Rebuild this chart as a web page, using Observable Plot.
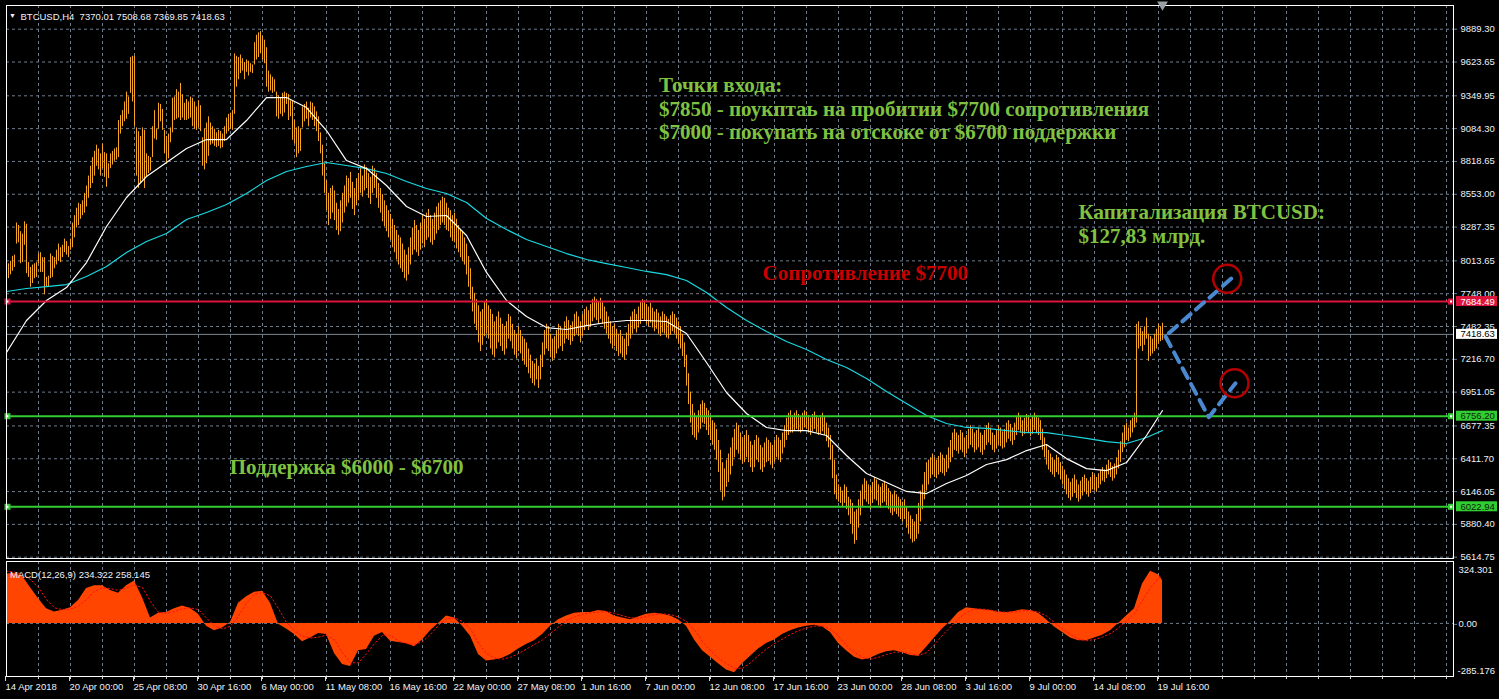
<!DOCTYPE html>
<html><head><meta charset="utf-8">
<script src="https://cdn.jsdelivr.net/npm/d3@7"></script>
<script src="https://cdn.jsdelivr.net/npm/@observablehq/plot@0.6"></script>
<style>
html,body{margin:0;padding:0;background:#000;}
#wrap{position:relative;width:1499px;height:699px;background:#000;overflow:hidden;}
#price{position:absolute;left:0;top:0;}
#macd{position:absolute;left:0;top:558px;}
</style></head><body><div id="wrap"><div id="price"></div><div id="macd"></div></div>
<script>
// ---------- DATA ----------
const START = "2018-04-14T16:00Z";   // first H4 bar
const BAR_HOURS = 4;
const header = "BTCUSD,H4\u00a0\u00a07370.01 7508.68 7369.85 7418.63";
const high = [
7920,7990,8010,8050,8060,8320,8300,8250,8230,8330,
8310,8000,7960,7980,7990,8000,8070,8080,8040,8040,
7880,7890,8070,8050,8040,8100,8150,8120,8140,8190,
8170,8130,8190,8320,8380,8440,8480,8470,8500,8560,
8620,8700,8780,8850,8900,8950,8920,8880,8960,8890,
8880,8800,8880,8900,8920,8930,9150,9190,9230,9300,
9380,9340,9660,9670,9670,9090,9060,9020,9090,9070,
8880,8860,8850,9100,9230,9080,9290,9280,9240,9070,
9020,9040,9090,9330,9340,9400,9380,9450,9360,9290,
9320,9300,9340,9330,9300,9260,9310,9270,9010,9080,
9130,9180,9130,9100,9080,9050,9070,9060,9040,9100,
9170,9200,9210,9230,9690,9670,9660,9680,9650,9620,
9640,9630,9610,9600,9780,9840,9860,9870,9830,9800,
9740,9550,9520,9500,9480,9380,9350,9330,9370,9380,
9370,9360,9310,9310,9150,9090,9100,9080,9260,9280,
9300,9250,9300,9290,9260,9220,9180,9050,8950,8800,
8660,8560,8600,8620,8580,8480,8430,8500,8560,8620,
8700,8680,8730,8650,8600,8680,8720,8760,8700,8790,
8770,8720,8690,8780,8760,8720,8640,8600,8550,8500,
8460,8420,8390,8350,8300,8260,8220,8200,8150,8100,
8060,8120,8200,8280,8340,8300,8260,8320,8380,8350,
8400,8430,8380,8350,8400,8450,8480,8500,8530,8520,
8480,8440,8420,8380,8400,8350,8300,8260,8250,8200,
8150,8050,7950,7800,7750,7700,7650,7600,7620,7680,
7700,7650,7620,7580,7520,7560,7600,7550,7500,7480,
7520,7580,7560,7500,7450,7420,7480,7450,7400,7380,
7350,7300,7250,7200,7180,7220,7160,7250,7350,7450,
7500,7480,7420,7380,7400,7450,7500,7480,7450,7520,
7560,7530,7490,7520,7580,7600,7560,7520,7580,7620,
7640,7610,7660,7700,7720,7700,7680,7710,7680,7640,
7600,7560,7520,7480,7500,7460,7420,7450,7400,7380,
7430,7500,7560,7600,7620,7580,7640,7680,7700,7690,
7660,7640,7670,7630,7600,7620,7590,7560,7600,7580,
7560,7540,7570,7600,7580,7550,7520,7480,7420,7350,
7250,7100,6950,6850,6780,6750,6800,6850,6880,6860,
6820,6800,6760,6720,6700,6650,6560,6480,6380,6330,
6400,6450,6500,6580,6650,6700,6680,6620,6580,6600,
6640,6600,6550,6520,6560,6600,6580,6520,6500,6540,
6580,6560,6540,6520,6560,6600,6580,6560,6620,6680,
6740,6780,6800,6760,6780,6800,6770,6750,6780,6800,
6790,6760,6740,6770,6790,6760,6740,6760,6780,6750,
6700,6660,6600,6520,6400,6280,6200,6180,6150,6200,
6180,6100,6080,6050,5980,6000,6080,6150,6200,6250,
6230,6200,6180,6220,6260,6240,6200,6180,6210,6230,
6200,6170,6140,6120,6150,6120,6100,6080,6060,6080,
6020,5980,5950,5920,5900,5960,6050,6150,6200,6300,
6380,6400,6420,6450,6420,6400,6430,6460,6440,6410,
6440,6500,6560,6620,6650,6620,6600,6640,6620,6580,
6600,6650,6680,6650,6620,6640,6660,6620,6600,6640,
6680,6700,6660,6620,6600,6640,6680,6660,6630,6650,
6700,6720,6690,6660,6700,6750,6780,6760,6720,6740,
6770,6760,6730,6750,6780,6760,6740,6720,6650,6580,
6520,6480,6450,6420,6400,6440,6420,6380,6350,6320,
6280,6250,6220,6250,6280,6240,6200,6230,6260,6280,
6250,6230,6260,6300,6280,6260,6290,6320,6340,6320,
6360,6400,6380,6350,6370,6420,6480,6550,6620,6680,
6700,6660,6720,6740,6780,7500,7520,7470,7440,7480,
7550,7420,7400,7380,7420,7460,7500,7480,7508.68];
const low = [
7810,7870,7900,7930,7960,8150,8160,7990,8000,8140,
7910,7880,7800,7830,7870,7880,7990,7920,7920,7740,
7800,7800,7870,7880,7950,7980,8010,8000,8040,8080,
8060,8040,8100,8120,8200,8280,8300,8350,8380,8400,
8450,8520,8600,8640,8700,8780,8750,8700,8760,8690,
8610,8680,8760,8790,8820,8830,8850,9040,9100,9140,
9160,9200,9370,9300,9100,8700,8600,8640,8670,8600,
8690,8720,8740,8850,9000,8990,9080,9140,9070,8880,
8800,8840,8970,9050,9150,9160,9170,9150,9170,9150,
9150,9160,9170,9100,9080,9070,9090,9060,8780,8750,
8800,8860,8950,8960,8940,8930,8940,8920,8930,8980,
9040,9060,9080,9070,9200,9420,9480,9530,9550,9480,
9540,9510,9540,9530,9600,9640,9660,9690,9640,9610,
9420,9380,9390,9370,9380,9180,9160,9200,9180,9210,
9280,9150,9180,8990,8960,8850,8880,8900,9090,9140,
9160,9100,9170,9150,9100,9060,8980,8880,8700,8560,
8420,8300,8350,8400,8340,8260,8220,8250,8320,8400,
8450,8480,8520,8430,8380,8460,8500,8560,8530,8580,
8600,8520,8470,8560,8600,8520,8440,8400,8330,8290,
8250,8200,8180,8120,8080,8020,7980,7950,7920,7870,
7850,7900,7980,8060,8100,8080,8050,8100,8150,8120,
8180,8200,8160,8140,8180,8230,8260,8300,8320,8300,
8260,8250,8200,8170,8160,8110,8080,8040,8010,7980,
7900,7800,7700,7600,7500,7450,7350,7280,7330,7400,
7420,7380,7300,7250,7230,7300,7350,7320,7280,7250,
7300,7380,7360,7300,7250,7220,7280,7260,7200,7170,
7150,7100,7060,7020,7000,7050,6980,7050,7150,7250,
7300,7280,7230,7200,7220,7260,7300,7320,7280,7340,
7380,7370,7330,7360,7400,7420,7400,7350,7400,7450,
7480,7450,7480,7520,7550,7530,7500,7540,7500,7460,
7420,7380,7340,7300,7320,7280,7240,7260,7230,7210,
7250,7320,7380,7420,7460,7430,7470,7500,7540,7530,
7500,7480,7510,7470,7440,7460,7420,7400,7430,7420,
7390,7380,7410,7440,7420,7380,7340,7300,7240,7150,
7000,6850,6700,6600,6580,6560,6620,6650,6700,6690,
6640,6600,6560,6520,6480,6400,6300,6150,6070,6100,
6180,6220,6280,6350,6420,6480,6450,6400,6370,6380,
6420,6380,6340,6300,6340,6400,6380,6320,6300,6340,
6380,6390,6360,6330,6380,6420,6400,6380,6450,6500,
6560,6600,6620,6620,6640,6650,6630,6620,6640,6660,
6650,6620,6600,6630,6650,6620,6600,6610,6630,6600,
6550,6500,6400,6250,6120,6080,6060,6050,6020,6050,
6000,5950,5880,5800,5720,5750,5850,5950,6020,6080,
6060,6040,6000,6050,6080,6070,6030,6010,6050,6060,
6030,6000,5970,5950,5980,5960,5940,5920,5900,5920,
5850,5800,5760,5730,5740,5760,5800,5900,6000,6080,
6150,6200,6250,6280,6260,6250,6280,6300,6290,6270,
6300,6330,6380,6420,6480,6470,6450,6480,6460,6420,
6450,6490,6520,6500,6460,6480,6500,6460,6440,6480,
6520,6540,6520,6480,6460,6490,6520,6510,6490,6500,
6540,6570,6550,6520,6560,6600,6640,6620,6590,6610,
6630,6620,6590,6610,6640,6620,6600,6560,6480,6420,
6360,6320,6300,6280,6260,6300,6280,6240,6200,6160,
6120,6090,6070,6100,6130,6090,6060,6080,6110,6140,
6120,6100,6130,6160,6150,6140,6170,6200,6230,6220,
6250,6280,6260,6230,6250,6280,6330,6380,6460,6500,
6560,6550,6580,6620,6660,6700,7300,7320,7280,7330,
7380,7200,7240,7260,7280,7300,7340,7360,7369.85];
// moving averages, one value every MA_STEP bars, last value on the last bar
const MA_STEP = 10;
const maFast = [7272,7531,7693,7798,8000,8292,8527,8697,8810,8923,
8996,8996,9150,9336,9336,9255,9069,8826,8761,8624,
8454,8373,8381,8219,7920,7693,7563,7474,7458,7490,
7515,7531,7531,7523,7426,7191,6948,6778,6665,6640,
6640,6600,6438,6292,6219,6147,6130,6211,6276,6365,
6405,6478,6527,6413,6332,6316,6381,6600,6802];
const maSlow = [7766,7790,7806,7822,7887,7968,8082,8171,8235,8349,
8405,8470,8559,8664,8737,8778,8810,8786,8761,8721,
8656,8600,8559,8486,8357,8268,8187,8130,8073,8025,
7992,7960,7928,7903,7855,7758,7636,7531,7442,7361,
7296,7215,7150,7061,6956,6859,6762,6697,6665,6657,
6640,6624,6624,6600,6576,6551,6535,6584,6640];
// MACD(12,26,9): one value every MACD_STEP bars, last value on the last bar
const MACD_STEP = 4;
const macdMain = [270,272,258,195,135,80,62,72,86,125,
190,205,205,180,165,205,232,140,30,55,
60,80,95,82,50,-15,-40,-25,5,110,
145,170,175,110,-5,-30,-60,-100,-80,-55,
-60,-165,-225,-235,-150,-142,-70,-50,-98,-105,
-111,-128,-90,-40,0,40,30,-15,-70,-170,
-205,-200,-190,-170,-140,-115,-95,-60,-15,20,
40,55,60,60,70,65,40,30,20,35,
50,55,50,40,20,-15,-90,-150,-185,-220,
-255,-270,-220,-180,-140,-110,-90,-60,-40,-25,
-15,-10,-20,-50,-110,-150,-185,-200,-190,-170,
-155,-150,-160,-175,-180,-130,-80,-30,10,60,
85,80,75,70,60,60,65,75,70,55,
20,-20,-50,-80,-95,-95,-80,-65,-40,0,
40,80,215,285,265,234.322];
const macdSignal = [285,280,268,240,195,130,85,75,78,95,
130,175,195,190,180,195,210,195,120,60,
55,65,80,85,75,30,-15,-30,-15,40,
110,160,168,150,80,5,-40,-70,-80,-75,
-65,-90,-160,-215,-215,-165,-110,-65,-65,-95,
-110,-115,-100,-60,-10,25,30,10,-30,-110,
-165,-190,-195,-185,-165,-140,-115,-90,-55,-20,
15,35,50,58,62,65,55,42,30,28,
38,48,52,48,35,10,-35,-100,-150,-190,
-220,-245,-245,-215,-175,-140,-110,-85,-60,-40,
-25,-15,-15,-30,-70,-120,-160,-185,-195,-185,
-170,-158,-155,-165,-175,-160,-115,-65,-20,25,
60,78,78,72,65,60,62,68,70,62,
40,5,-30,-60,-85,-95,-88,-75,-55,-25,
15,55,125,195,245,258.145];
const macdText = "MACD(12,26,9) 234.322 258.145";
// price axis and levels
const yTicks = [9889.30,9623.65,9349.95,9084.30,8818.65,8553.00,8287.35,8013.65,7748.00,7482.35,7216.70,6951.05,6677.35,6411.70,6146.05,5880.40,5614.75];
const macdTicks = [324.301, 0, -285.176];
const macdTickLabels = ["324.301", "0.00", "-285.176"];
const levelValues = [7684.49, 6756.20, 6022.94];
const levelColors = ["#dc143c", "#32cd32", "#32cd32"];
const levelTextColors = ["#ffffff", "#0b1f0b", "#0b1f0b"];
const bid = 7418.63;
// time axis
const xTickDates = ["2018-04-14T16:00Z","2018-04-20T00:00Z","2018-04-25T08:00Z","2018-04-30T16:00Z","2018-05-06T00:00Z","2018-05-11T08:00Z","2018-05-16T16:00Z","2018-05-22T00:00Z","2018-05-27T08:00Z","2018-06-01T16:00Z","2018-06-07T00:00Z","2018-06-12T08:00Z","2018-06-17T16:00Z","2018-06-23T00:00Z","2018-06-28T08:00Z","2018-07-03T16:00Z","2018-07-09T00:00Z","2018-07-14T08:00Z","2018-07-19T16:00Z"];
const xTickLabels = ["14 Apr 2018","20 Apr 00:00","25 Apr 08:00","30 Apr 16:00","6 May 00:00","11 May 08:00","16 May 16:00","22 May 00:00","27 May 08:00","1 Jun 16:00","7 Jun 00:00","12 Jun 08:00","17 Jun 16:00","23 Jun 00:00","28 Jun 08:00","3 Jul 16:00","9 Jul 00:00","14 Jul 08:00","19 Jul 16:00"];
// annotations (anchored in time / price)
const notes = [
  {text: "Точки входа:\n$7850 - поукптаь на пробитии $7700 сопротивления\n$7000 - покупать на отскоке от $6700 поддержки", date: "2018-06-08T01:00Z", price: 9516, color: "#7fc241", lh: 1.12},
  {text: "Капитализация BTCUSD:\n$127,83 млрд.", date: "2018-07-13T00:00Z", price: 8494, color: "#7fc241", lh: 1.16},
  {text: "Сопротивление $7700", date: "2018-06-16T16:00Z", price: 7992, color: "#c80000", lh: 1.1},
  {text: "Поддержка $6000 - $6700", date: "2018-05-03T06:30Z", price: 6424, color: "#7fc241", lh: 1.1}
];
const pathUp = [{date: "2018-07-20T12:36Z", price: 7428}, {date: "2018-07-25T19:24Z", price: 7877}];
const pathDown = [{date: "2018-07-20T06:00Z", price: 7401}, {date: "2018-07-23T20:36Z", price: 6748}, {date: "2018-07-26T02:00Z", price: 7023}];
const targets = [{date: "2018-07-25T09:24Z", price: 7869}, {date: "2018-07-26T00:00Z", price: 7023}];

// ---------- BUILD ----------
const H = 3600e3;
const t0 = new Date(START);
const nBars = Math.min(high.length, low.length);
const lastBar = nBars - 1;
const barDate = i => new Date(+t0 + i * BAR_HOURS * H);
const xDomain = [t0, new Date(+t0 + 2894 * H)];
const xEnd = +xDomain[1];
const yDomain = [5604.2, 10081.2];
const pricePerPx = (yDomain[1] - yDomain[0]) / 553;
const hoursPerPx = 2;
const gridDates = d3.range(1, 46).map(k => new Date(+t0 + k * 16 * BAR_HOURS * H));
const bars = d3.range(nBars).map(i => ({date: barDate(i), high: high[i], low: low[i]}));
const seriesAt = (vals, step) => vals.map((v, k) => ({date: barDate(k === vals.length - 1 ? lastBar : k * step), v}));
const fast = seriesAt(maFast, MA_STEP);
const slow = seriesAt(maSlow, MA_STEP);
const macd = seriesAt(macdMain, MACD_STEP);
const signal = seriesAt(macdSignal, MACD_STEP);
const toD = a => a.map(d => ({...d, date: new Date(d.date)}));
const levels = levelValues.map((v, i) => ({v, color: levelColors[i], tc: levelTextColors[i]}));
const boxes = [...levels, {v: bid, color: "#ffffff", tc: "#000000"}];
const labelMap = new Map(xTickDates.map((d, i) => [+new Date(d), xTickLabels[i]]));
const GRID = "#6f7d8c";
const FONT = "Liberation Sans, Arial, sans-serif";
const SERIF = "Liberation Serif, Times New Roman, serif";
const AX = "#eef2f7";

const price = Plot.plot({
  width: 1499, height: 560,
  marginTop: 5, marginBottom: 2, marginLeft: 6, marginRight: 46,
  x: {type: "utc", domain: xDomain, axis: null},
  y: {domain: yDomain},
  style: {background: "transparent", color: AX, fontFamily: FONT, fontSize: "9.5px", overflow: "visible"},
  marks: [
    Plot.ruleX(gridDates, {stroke: GRID, strokeDasharray: "3,3"}),
    Plot.ruleY(yTicks, {stroke: GRID, strokeDasharray: "3,3"}),
    Plot.ruleY([bid], {stroke: "#7d8791", strokeWidth: 1}),
    Plot.ruleX(bars, {x: "date", y1: "low", y2: "high", stroke: "#f5a623", strokeWidth: 1}),
    Plot.line(slow, {x: "date", y: "v", stroke: "#19d9e3", strokeWidth: 1.2}),
    Plot.line(fast, {x: "date", y: "v", stroke: "#ffffff", strokeWidth: 1.2}),
    Plot.ruleY(levels, {y: "v", stroke: "color", strokeWidth: 2}),
    Plot.dot(levels, {y: "v", frameAnchor: "left", dx: 1, symbol: "square", r: 3.4, fill: "color"}),
    Plot.dot(levels, {y: "v", frameAnchor: "left", dx: 1, symbol: "square", r: 1.1, fill: "white"}),
    Plot.dot(levels, {y: "v", frameAnchor: "right", dx: -2.5, symbol: "square", r: 3.4, fill: "color"}),
    Plot.dot(levels, {y: "v", frameAnchor: "right", dx: -2.5, symbol: "square", r: 1.1, fill: "white"}),
    Plot.line(toD(pathUp), {x: "date", y: "price", stroke: "#4a88d0", strokeWidth: 4, strokeDasharray: "11,7"}),
    Plot.line(toD(pathDown), {x: "date", y: "price", stroke: "#4a88d0", strokeWidth: 4, strokeDasharray: "11,7"}),
    Plot.dot(toD(targets), {x: "date", y: "price", r: 14, stroke: "#b40000", strokeWidth: 2.5, fill: "none"}),
    ...notes.map(n => Plot.text([n], {x: d => new Date(d.date), y: "price", text: "text", fill: n.color,
      fontFamily: SERIF, fontWeight: "bold", fontSize: 21, textAnchor: "start", lineAnchor: "top", lineHeight: n.lh})),
    Plot.frame({stroke: "#ffffff"}),
    Plot.axisY({ticks: yTicks, anchor: "right", label: null, tickFormat: d => d.toFixed(2), tickSize: 3, tickPadding: 4, stroke: GRID, fill: AX, fontSize: 9.5}),
    Plot.rect(boxes, {x1: () => new Date(xEnd + 3 * hoursPerPx * H), x2: () => new Date(xEnd + 44 * hoursPerPx * H),
      y1: d => d.v - 5 * pricePerPx, y2: d => d.v + 5 * pricePerPx, fill: "color"}),
    Plot.text(boxes, {x: () => new Date(xEnd + 7 * hoursPerPx * H), y: "v", text: d => d.v.toFixed(2), fill: "tc", textAnchor: "start", fontSize: 9.5}),
    Plot.text(["\u25BC"], {frameAnchor: "top-left", dx: 6, dy: 7.5, text: d => d, fill: AX, fontSize: 7, textAnchor: "middle"}),
    Plot.text([header], {frameAnchor: "top-left", dx: 14, dy: 7.5, text: d => d, fill: AX, fontSize: 9.5, textAnchor: "start"}),
    Plot.dot([barDate(lastBar)], {x: d => d, frameAnchor: "top", symbol: "triangle", rotate: 180, r: 4, fill: "#9aa0a6", dy: -1})
  ]
});
document.getElementById("price").appendChild(price);

const macdPlot = Plot.plot({
  width: 1499, height: 141,
  marginTop: 3, marginBottom: 23, marginLeft: 6, marginRight: 46,
  x: {type: "utc", domain: xDomain},
  y: {domain: [-290, 338]},
  style: {background: "transparent", color: AX, fontFamily: FONT, fontSize: "9.5px", overflow: "visible"},
  marks: [
    Plot.ruleX(gridDates, {stroke: GRID, strokeDasharray: "3,3"}),
    Plot.ruleY([0], {stroke: GRID, strokeDasharray: "3,3"}),
    Plot.areaY(macd, {x: "date", y: "v", fill: "#ff4500"}),
    Plot.line(signal, {x: "date", y: "v", stroke: "#ff1010", strokeWidth: 1, strokeDasharray: "1.5,2.5"}),
    Plot.frame({stroke: "#ffffff"}),
    Plot.axisX({ticks: xTickDates.map(d => new Date(d)), label: null, tickFormat: d => labelMap.get(+d), textAnchor: "start", dx: -1, tickSize: 5, tickPadding: 1.5, stroke: "#d8d8d8", fill: AX, fontSize: 9.5}),
    Plot.axisX({ticks: gridDates, label: null, tickFormat: () => "", tickSize: 3, stroke: "#d8d8d8"}),
    Plot.axisY({ticks: [macdTicks[0]], anchor: "right", label: null, tickFormat: () => macdTickLabels[0], tickSize: 0, tickPadding: 5, dy: 5.5, fill: AX, fontSize: 9.5}),
    Plot.axisY({ticks: [macdTicks[1]], anchor: "right", label: null, tickFormat: () => macdTickLabels[1], tickSize: 3, tickPadding: 2, dy: 1, stroke: GRID, fill: AX, fontSize: 9.5}),
    Plot.axisY({ticks: [macdTicks[2]], anchor: "right", label: null, tickFormat: () => macdTickLabels[2], tickSize: 0, tickPadding: 4, dy: -5, fill: AX, fontSize: 9.5}),
    Plot.text([macdText], {frameAnchor: "top-left", dx: 3.5, dy: 9.5, text: d => d, fill: AX, fontSize: 9.5, textAnchor: "start"})
  ]
});
document.getElementById("macd").appendChild(macdPlot);
</script>
</body></html>
